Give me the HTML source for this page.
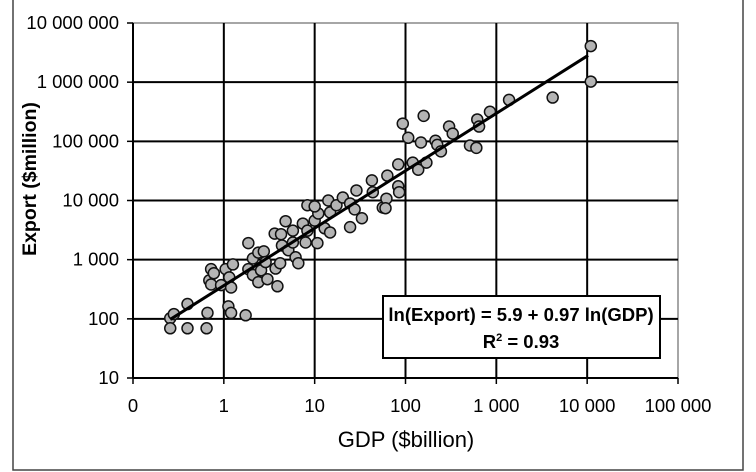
<!DOCTYPE html>
<html><head><meta charset="utf-8"><style>
html,body{margin:0;padding:0;background:#fff;}
svg{display:block;font-family:"Liberation Sans",Arial,sans-serif;}
</style></head><body>
<svg id="chart" width="756" height="472" viewBox="0 0 756 472">
<rect x="13" y="-2" width="730" height="472" fill="#fff" stroke="#444" stroke-width="1.5"/>
<g id="grid"></g>
<g id="points"></g>
<g id="trend"></g>
<g id="labels"></g>
<text x="36" y="179" transform="rotate(-90 36 179)" text-anchor="middle" font-size="19.5" font-weight="bold">Export ($million)</text>
<text x="406" y="447" text-anchor="middle" font-size="22">GDP ($billion)</text>
<g>
<rect x="383" y="296" width="277" height="62" fill="#fff" stroke="#000" stroke-width="2"/>
<text x="521" y="321" text-anchor="middle" font-size="18.5" font-weight="bold">ln(Export) = 5.9 + 0.97 ln(GDP)</text>
<text x="521" y="348" text-anchor="middle" font-size="18.5" font-weight="bold">R<tspan font-size="11" dy="-7">2</tspan><tspan dy="7"> = 0.93</tspan></text>
</g>
</svg>
<script>
const xTickLabels = ["0","1","10","100","1 000","10 000","100 000"];
const yTickLabels = ["10","100","1 000","10 000","100 000","1 000 000","10 000 000"];
const logGdp = [-0.59,-0.55,-0.59,-0.40,-0.19,-0.40,-0.18,0.05,0.08,0.24,-0.14,-0.16,-0.14,-0.11,-0.03,0.02,0.06,0.10,0.08,0.27,0.32,0.38,0.44,0.27,0.32,0.41,0.38,0.48,0.59,0.46,0.57,0.62,0.56,0.63,0.68,0.76,0.64,0.71,0.79,0.82,0.76,0.87,0.92,0.90,1.03,1.00,1.04,0.92,1.00,1.15,1.17,1.11,1.17,1.24,1.31,1.39,1.46,1.44,1.52,1.39,1.64,1.75,1.79,1.63,4.04,4.04,3.62,3.14,2.93,2.79,2.81,2.48,2.52,2.20,1.97,2.03,2.17,2.33,2.35,2.39,2.71,2.78,1.92,2.08,2.14,2.23,1.92,1.93,1.80,1.78];
const logExport = [2.01,2.08,1.84,1.84,1.84,2.25,2.10,2.21,2.10,2.06,2.84,2.65,2.58,2.77,2.57,2.84,2.70,2.92,2.53,3.28,3.02,3.12,3.14,2.84,2.74,2.82,2.62,2.67,2.55,2.96,2.85,2.94,3.44,3.43,3.65,3.49,3.24,3.16,3.04,2.94,3.29,3.61,3.49,3.29,3.28,3.66,3.78,3.92,3.90,4.00,3.80,3.53,3.46,3.92,4.05,3.95,4.17,3.85,3.70,3.55,4.14,3.88,4.03,4.34,6.61,6.01,5.74,5.70,5.50,5.37,5.25,5.25,5.13,5.43,5.30,5.06,4.98,5.01,4.94,4.83,4.93,4.89,4.61,4.64,4.52,4.64,4.24,4.14,4.42,3.87];
const trendIntercept = 5.9, trendSlope = 0.97;
const trendRange = [-0.59, 4.01];

const NS="http://www.w3.org/2000/svg";
const X0=133,X1=678,Y0=378,Y1=23;
function sx(lx){return X0+(lx+1)/6*(X1-X0);}
function sy(ly){return Y0-(ly-1)/6*(Y0-Y1);}
function mk(tag,attrs,parent){const e=document.createElementNS(NS,tag);for(const k in attrs)e.setAttribute(k,attrs[k]);parent.appendChild(e);return e;}
const grid=document.getElementById('grid'),labels=document.getElementById('labels');
mk('rect',{x:X0,y:Y1,width:X1-X0,height:Y0-Y1,fill:'#fff',stroke:'#888','stroke-width':1.5},grid);
mk('line',{x1:X0,y1:Y0,x2:X1,y2:Y0,stroke:'#000','stroke-width':2},grid);
mk('line',{x1:X0,y1:Y0,x2:X0,y2:Y1,stroke:'#000','stroke-width':2},grid);
for(let i=0;i<7;i++){
  const x=sx(i-1);
  if(i>0&&i<6){const l=mk('line',{x1:x,y1:Y1,x2:x,y2:Y0,stroke:'#000','stroke-width':2},grid);
  
  }
  mk('line',{x1:x,y1:Y0,x2:x,y2:Y0+6,stroke:'#000','stroke-width':1.5},grid);
  const t=mk('text',{x:x,y:Y0+34,'text-anchor':'middle','font-size':18.5},labels);t.textContent=xTickLabels[i];
  
  
  const y=sy(i+1);
  if(i>0&&i<6){const l=mk('line',{x1:X0,y1:y,x2:X1,y2:y,stroke:'#000','stroke-width':2},grid);
  
  }
  mk('line',{x1:X0-6,y1:y,x2:X0,y2:y,stroke:'#000','stroke-width':1.5},grid);
  const u=mk('text',{x:X0-14,y:y+6,'text-anchor':'end','font-size':18.5},labels);u.textContent=yTickLabels[i];
  
  
}
const pts=document.getElementById('points');
for(let i=0;i<logGdp.length;i++){
  const c=mk('circle',{cx:sx(logGdp[i]),cy:sy(logExport[i]),r:5.5,fill:'#b4b4b4',stroke:'#111','stroke-width':1.5},pts);
  
  
}
const tr=document.getElementById('trend');
const f=lx=>trendIntercept/Math.LN10+trendSlope*lx;
const tl=mk('line',{x1:sx(trendRange[0]),y1:sy(f(trendRange[0])),x2:sx(trendRange[1]),y2:sy(f(trendRange[1])),stroke:'#000','stroke-width':3},tr);


</script>
</body></html>
